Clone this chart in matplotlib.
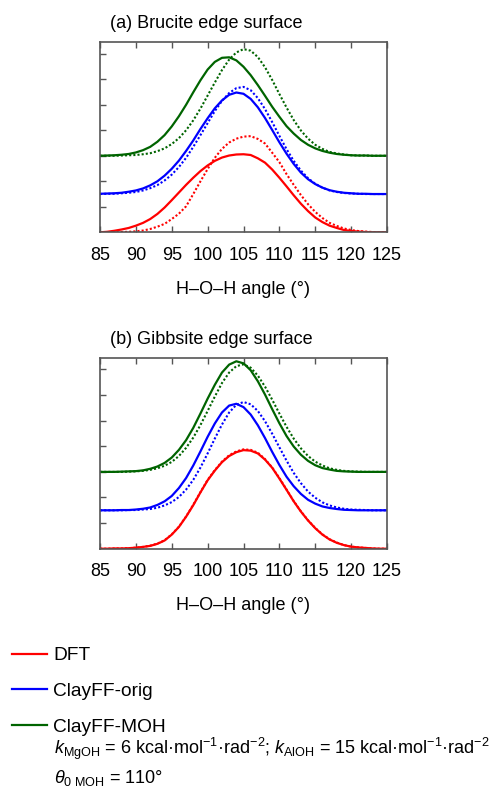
import numpy as np
import matplotlib
matplotlib.use("Agg")
import matplotlib.pyplot as plt

plt.rcParams['font.family'] = ['Liberation Sans', 'DejaVu Sans']
plt.rcParams['mathtext.fontset'] = 'custom'
plt.rcParams['mathtext.rm'] = 'Liberation Sans'
plt.rcParams['mathtext.it'] = 'Liberation Sans:italic'

# H-O-H angle grid (deg)
angle = np.arange(85, 126)

# (a) Brucite edge surface
a_dft = [0.00, 0.02, 0.06, 0.11, 0.17, 0.26, 0.37, 0.52, 0.72, 0.97, 1.26, 1.56, 1.86, 2.14, 2.40, 2.62,
         2.80, 2.93, 3.01, 3.05, 3.06, 3.03, 2.90, 2.73, 2.46, 2.14, 1.80, 1.45, 1.12, 0.83, 0.58, 0.40,
         0.26, 0.17, 0.09, 0.05, 0.03, 0.01, 0.00, 0.00, 0.00]
a_dft_dot = [0.00, 0.00, 0.00, 0.01, 0.02, 0.04, 0.07, 0.13, 0.22, 0.33, 0.52, 0.73, 1.02, 1.50, 2.00, 2.48,
             2.92, 3.27, 3.52, 3.67, 3.75, 3.77, 3.66, 3.48, 3.12, 2.75, 2.28, 1.86, 1.46, 1.10, 0.80, 0.56,
             0.37, 0.25, 0.15, 0.09, 0.05, 0.03, 0.01, 0.00, 0.00]
a_orig = [1.51, 1.52, 1.53, 1.55, 1.59, 1.64, 1.72, 1.84, 2.00, 2.22, 2.49, 2.81, 3.19, 3.60, 4.05, 4.47,
          4.86, 5.17, 5.39, 5.48, 5.43, 5.23, 4.90, 4.48, 4.01, 3.53, 3.08, 2.68, 2.34, 2.08, 1.89, 1.75,
          1.65, 1.59, 1.55, 1.53, 1.51, 1.51, 1.50, 1.50, 1.50]
a_orig_dot = [1.50, 1.51, 1.51, 1.53, 1.55, 1.58, 1.64, 1.73, 1.85, 2.03, 2.26, 2.56, 2.92, 3.35, 3.81, 4.28,
              4.75, 5.15, 5.46, 5.65, 5.70, 5.57, 5.26, 4.83, 4.32, 3.78, 3.26, 2.80, 2.42, 2.12, 1.90, 1.75,
              1.64, 1.58, 1.54, 1.52, 1.51, 1.50, 1.50, 1.50, 1.50]
a_moh = [3.00, 3.01, 3.02, 3.04, 3.07, 3.13, 3.22, 3.35, 3.55, 3.81, 4.15, 4.55, 5.00, 5.49, 5.96, 6.38,
         6.68, 6.84, 6.86, 6.74, 6.49, 6.16, 5.77, 5.35, 4.92, 4.53, 4.16, 3.87, 3.62, 3.43, 3.29, 3.19,
         3.12, 3.07, 3.04, 3.02, 3.01, 3.01, 3.00, 3.00, 3.00]
a_moh_dot = [3.00, 3.00, 3.00, 3.01, 3.02, 3.03, 3.06, 3.10, 3.18, 3.29, 3.46, 3.69, 4.00, 4.39, 4.85, 5.36,
             5.87, 6.36, 6.77, 7.05, 7.18, 7.12, 6.87, 6.47, 5.97, 5.42, 4.89, 4.40, 3.99, 3.67, 3.43, 3.27,
             3.15, 3.09, 3.05, 3.02, 3.01, 3.01, 3.00, 3.00, 3.00]

# (b) Gibbsite edge surface
b_dft = [0.00, 0.00, 0.01, 0.01, 0.02, 0.04, 0.07, 0.11, 0.19, 0.32, 0.55, 0.85, 1.25, 1.70, 2.20, 2.67,
         3.05, 3.38, 3.62, 3.77, 3.85, 3.83, 3.72, 3.48, 3.16, 2.74, 2.30, 1.85, 1.45, 1.10, 0.80, 0.55,
         0.36, 0.23, 0.14, 0.08, 0.05, 0.03, 0.01, 0.00, 0.00]
b_dft_dot = [0.00, 0.00, 0.01, 0.01, 0.02, 0.04, 0.07, 0.12, 0.20, 0.33, 0.56, 0.86, 1.26, 1.72, 2.21, 2.69,
             3.07, 3.40, 3.65, 3.80, 3.88, 3.86, 3.75, 3.50, 3.17, 2.76, 2.31, 1.86, 1.46, 1.11, 0.81, 0.56,
             0.37, 0.24, 0.14, 0.08, 0.05, 0.03, 0.01, 0.00, 0.00]
b_orig = [1.50, 1.50, 1.50, 1.51, 1.51, 1.53, 1.56, 1.61, 1.71, 1.85, 2.06, 2.37, 2.76, 3.25, 3.80, 4.37,
          4.89, 5.32, 5.59, 5.66, 5.53, 5.24, 4.82, 4.32, 3.78, 3.27, 2.81, 2.44, 2.14, 1.91, 1.76, 1.65,
          1.59, 1.55, 1.52, 1.51, 1.50, 1.50, 1.50, 1.50, 1.50]
b_orig_dot = [1.50, 1.50, 1.50, 1.50, 1.51, 1.51, 1.53, 1.55, 1.60, 1.69, 1.82, 2.02, 2.31, 2.69, 3.17, 3.72,
              4.30, 4.85, 5.32, 5.62, 5.73, 5.64, 5.38, 4.98, 4.49, 3.96, 3.44, 2.96, 2.56, 2.23, 1.99, 1.81,
              1.69, 1.61, 1.56, 1.53, 1.52, 1.51, 1.50, 1.50, 1.50]
b_moh = [3.00, 3.00, 3.00, 3.01, 3.02, 3.03, 3.06, 3.12, 3.21, 3.35, 3.56, 3.86, 4.24, 4.72, 5.28, 5.86,
         6.40, 6.88, 7.19, 7.32, 7.24, 6.97, 6.54, 6.02, 5.45, 4.90, 4.40, 3.99, 3.67, 3.43, 3.26, 3.15,
         3.09, 3.04, 3.02, 3.01, 3.00, 3.00, 3.00, 3.00, 3.00]
b_moh_dot = [3.00, 3.00, 3.00, 3.00, 3.01, 3.02, 3.04, 3.08, 3.14, 3.24, 3.39, 3.62, 3.94, 4.34, 4.83, 5.38,
             5.94, 6.47, 6.88, 7.13, 7.20, 7.07, 6.76, 6.33, 5.82, 5.28, 4.76, 4.30, 3.92, 3.62, 3.40, 3.25,
             3.14, 3.08, 3.04, 3.02, 3.01, 3.00, 3.00, 3.00, 3.00]

panel_titles = ['(a) Brucite edge surface', '(b) Gibbsite edge surface']
series_names = ['DFT', 'ClayFF-orig', 'ClayFF-MOH']
colors = ['#ff0000', '#0000ff', '#006400']
xticks = [85, 90, 95, 100, 105, 110, 115, 120, 125]

panels = [
    [(a_dft, a_dft_dot), (a_orig, a_orig_dot), (a_moh, a_moh_dot)],
    [(b_dft, b_dft_dot), (b_orig, b_orig_dot), (b_moh, b_moh_dot)],
]

W, H = 495, 789
fig = plt.figure(figsize=(W / 100, H / 100), dpi=100)

# axes boxes in pixels: left, top, right, bottom
boxes = [(100, 42, 387, 232.3), (100, 357.7, 387, 548.7)]
spine_col = '#555555'

handles = []
for p, (box, data) in enumerate(zip(boxes, panels)):
    l, t, r, b = box
    ax = fig.add_axes([l / W, 1 - b / H, (r - l) / W, (b - t) / H])
    for (solid, dot), c, name in zip(data, colors, series_names):
        ln, = ax.plot(angle, solid, color=c, lw=1.6, label=name)
        ax.plot(angle, dot, color=c, lw=1.5, ls=(0, (1, 1)))
        if p == 0:
            handles.append(ln)
    ax.set_xlim(85, 125)
    ax.set_ylim(0, 7.46)
    ax.set_xticks(xticks)
    ax.set_yticks(range(1, 8))
    ax.tick_params(axis='x', direction='in', top=True, length=4, width=1, color=spine_col,
                   labelsize=13, pad=10.5)
    ax.tick_params(axis='y', direction='in', left=True, right=False, length=4, width=1,
                   color=spine_col, labelleft=False)
    for s in ax.spines.values():
        s.set_color(spine_col)
        s.set_linewidth(1.2)
    ax.set_xlabel('H–O–H angle (°)', fontsize=13, labelpad=12)
    ax.text(0.035, 1.095, panel_titles[p], transform=ax.transAxes, ha='left', va='center',
            fontsize=13)

fig.legend(handles=handles, labels=series_names, loc='upper left',
           bbox_to_anchor=(12 / W, 1 - 647 / H), frameon=False, fontsize=13.8,
           handlelength=1.8, handletextpad=0.35, borderpad=0, borderaxespad=0,
           labelspacing=0.95)

fig.text(54 / W, 1 - 749 / H,
         r'$k_{\mathrm{MgOH}}$ = 6 kcal·mol$^{\mathrm{-1}}$·rad$^{\mathrm{-2}}$; '
         r'$k_{\mathrm{AlOH}}$ = 15 kcal·mol$^{\mathrm{-1}}$·rad$^{\mathrm{-2}}$',
         ha='left', va='center', fontsize=13)
fig.text(54 / W, 1 - 778 / H, r'$\theta_{\mathit{0}\ \mathrm{MOH}}$ = 110°',
         ha='left', va='center', fontsize=13)

fig.savefig('out.png', dpi=100)
